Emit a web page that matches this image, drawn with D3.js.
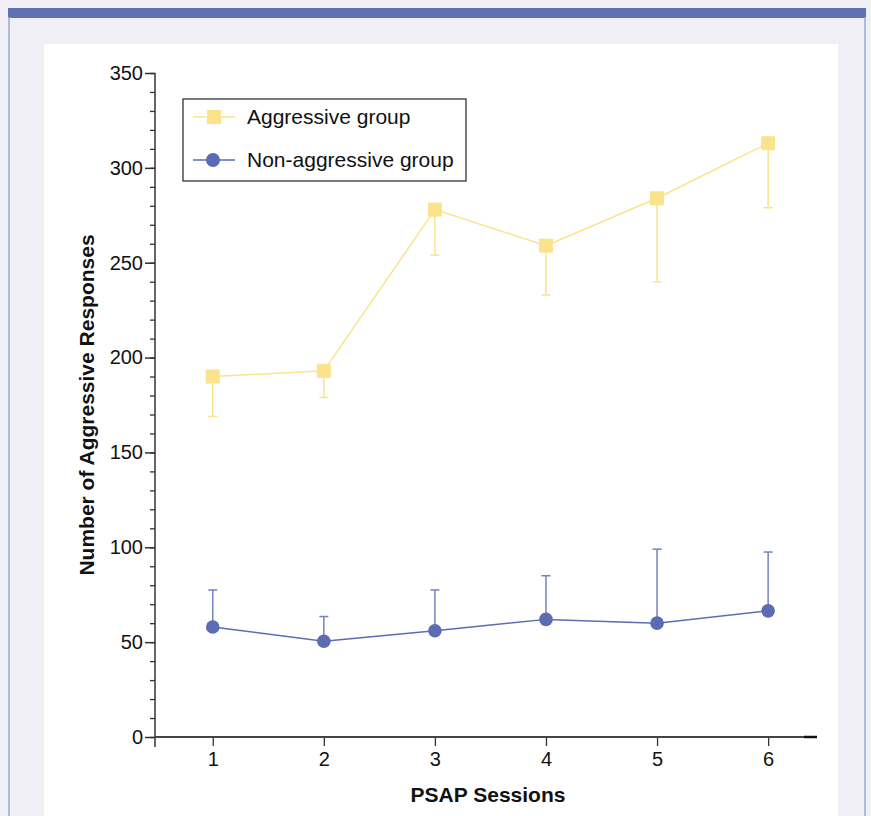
<!DOCTYPE html>
<html>
<head>
<meta charset="utf-8">
<script src="https://cdn.jsdelivr.net/npm/d3@7"></script>
<style>
  body { margin: 0; background: #efeff5; }
  svg { display: block; font-family: "Liberation Sans", Arial, sans-serif; }
</style>
</head>
<body>
<svg id="chart"></svg>
<script>
// chart data
const sessions = [1, 2, 3, 4, 5, 6];
const aggressiveMean = [190, 193, 278, 259, 284, 313];
const aggressiveSD = [21, 14, 24, 26, 44, 34];
const nonAggressiveMean = [58, 50.5, 56, 62, 60, 66.5];
const nonAggressiveSD = [19.5, 13, 21.5, 23, 39, 31];
const yMajorTicks = [0, 50, 100, 150, 200, 250, 300, 350];
const seriesNames = ['Aggressive group', 'Non-aggressive group'];

const width = 871;
const height = 816;
const yellow = '#fbe38c';
const blue = '#5c6cb3';
const font = '"Liberation Sans", Arial, sans-serif';

const svg = d3.select('#chart').attr('width', width).attr('height', height);

// page frame
svg.append('rect').attr('width', width).attr('height', height).attr('fill', '#efeff5');
svg.append('rect').attr('x', 8).attr('y', 8).attr('width', 858).attr('height', 10).attr('fill', '#5f70b5');
svg.append('line').attr('x1', 9).attr('x2', 9).attr('y1', 17).attr('y2', height).attr('stroke', '#9ca6d6').attr('stroke-width', 1.5);
svg.append('line').attr('x1', 865).attr('x2', 865).attr('y1', 17).attr('y2', height).attr('stroke', '#9ca6d6').attr('stroke-width', 1.5);
svg.append('rect').attr('x', 44).attr('y', 44).attr('width', 794).attr('height', height - 44).attr('fill', '#fff');

// scales
const x = d3.scaleLinear().domain([0.48, 6.44]).range([155, 817]);
const y = d3.scaleLinear().domain([0, 350]).range([737, 73]);

const axisColor = '#333';

// y axis minor ticks
svg.append('g')
    .attr('transform', 'translate(155,0)')
    .call(d3.axisLeft(y).tickValues(d3.range(0, 351, 10)).tickSize(5).tickFormat(''))
    .call(g => g.select('.domain').remove())
    .call(g => g.selectAll('line').attr('stroke', axisColor).attr('stroke-width', 1.3));

// y axis major ticks
svg.append('g')
    .attr('transform', 'translate(155,0)')
    .call(d3.axisLeft(y).tickValues(yMajorTicks).tickSize(10).tickPadding(2))
    .call(g => g.select('.domain').remove())
    .call(g => g.selectAll('line').attr('stroke', axisColor).attr('stroke-width', 1.5))
    .call(g => g.selectAll('text').attr('fill', '#111').style('font-size', '20px').style('font-family', font));

// x axis ticks
svg.append('g')
    .attr('transform', 'translate(0,737)')
    .call(d3.axisBottom(x).tickValues(sessions).tickSize(9).tickPadding(6).tickFormat(d3.format('d')))
    .call(g => g.select('.domain').remove())
    .call(g => g.selectAll('line').attr('stroke', axisColor).attr('stroke-width', 1.3))
    .call(g => g.selectAll('text').attr('fill', '#111').style('font-size', '20px').style('font-family', font));

// axis lines
svg.append('line').attr('x1', 155).attr('x2', 155).attr('y1', y(350)).attr('y2', 747)
    .attr('stroke', axisColor).attr('stroke-width', 1.5);
svg.append('line').attr('x1', 155).attr('x2', 817).attr('y1', 737).attr('y2', 737)
    .attr('stroke', '#444').attr('stroke-width', 1.8);
svg.append('line').attr('x1', 804).attr('x2', 817).attr('y1', 737).attr('y2', 737)
    .attr('stroke', '#111').attr('stroke-width', 2.5);

// axis titles
svg.append('text')
    .attr('x', 488).attr('y', 802)
    .attr('text-anchor', 'middle')
    .style('font-size', '21px').style('font-weight', 'bold').style('font-family', font).attr('fill', '#111')
    .text('PSAP Sessions');
svg.append('text')
    .attr('transform', 'translate(94,405) rotate(-90)')
    .attr('text-anchor', 'middle')
    .style('font-size', '21px').style('font-weight', 'bold').style('font-family', font).attr('fill', '#111')
    .text('Number of Aggressive Responses');

const line = d3.line().x((d, i) => x(sessions[i])).y(d => y(d));

// aggressive group: error bars below
const aggGroup = svg.append('g');
aggGroup.selectAll('.err')
    .data(aggressiveMean)
    .enter().append('line')
    .attr('x1', (d, i) => x(sessions[i])).attr('x2', (d, i) => x(sessions[i]))
    .attr('y1', d => y(d)).attr('y2', (d, i) => y(d - aggressiveSD[i]))
    .attr('stroke', yellow).attr('stroke-width', 1.5);
aggGroup.selectAll('.cap')
    .data(aggressiveMean)
    .enter().append('line')
    .attr('x1', (d, i) => x(sessions[i]) - 4.5).attr('x2', (d, i) => x(sessions[i]) + 4.5)
    .attr('y1', (d, i) => y(d - aggressiveSD[i])).attr('y2', (d, i) => y(d - aggressiveSD[i]))
    .attr('stroke', yellow).attr('stroke-width', 1.5);
aggGroup.append('path')
    .datum(aggressiveMean)
    .attr('d', line)
    .attr('fill', 'none').attr('stroke', yellow).attr('stroke-width', 1.5);
aggGroup.selectAll('rect')
    .data(aggressiveMean)
    .enter().append('rect')
    .attr('x', (d, i) => x(sessions[i]) - 7).attr('y', d => y(d) - 7)
    .attr('width', 14).attr('height', 14)
    .attr('fill', yellow);

// non-aggressive group: error bars above
const nonGroup = svg.append('g');
nonGroup.selectAll('.err')
    .data(nonAggressiveMean)
    .enter().append('line')
    .attr('x1', (d, i) => x(sessions[i])).attr('x2', (d, i) => x(sessions[i]))
    .attr('y1', d => y(d)).attr('y2', (d, i) => y(d + nonAggressiveSD[i]))
    .attr('stroke', '#7482c0').attr('stroke-width', 1.5);
nonGroup.selectAll('.cap')
    .data(nonAggressiveMean)
    .enter().append('line')
    .attr('x1', (d, i) => x(sessions[i]) - 4.5).attr('x2', (d, i) => x(sessions[i]) + 4.5)
    .attr('y1', (d, i) => y(d + nonAggressiveSD[i])).attr('y2', (d, i) => y(d + nonAggressiveSD[i]))
    .attr('stroke', '#7482c0').attr('stroke-width', 1.5);
nonGroup.append('path')
    .datum(nonAggressiveMean)
    .attr('d', line)
    .attr('fill', 'none').attr('stroke', blue).attr('stroke-width', 1.5);
nonGroup.selectAll('circle')
    .data(nonAggressiveMean)
    .enter().append('circle')
    .attr('cx', (d, i) => x(sessions[i])).attr('cy', d => y(d))
    .attr('r', 6.8)
    .attr('fill', blue);

// legend
const legend = svg.append('g').attr('transform', 'translate(183,99)');
legend.append('rect')
    .attr('width', 283).attr('height', 82)
    .attr('fill', '#fff').attr('stroke', '#222').attr('stroke-width', 1.2);
seriesNames.forEach((name, i) => {
    const ly = 18 + i * 43;
    const color = i === 0 ? yellow : blue;
    legend.append('line').attr('x1', 10).attr('x2', 52).attr('y1', ly).attr('y2', ly)
        .attr('stroke', color).attr('stroke-width', 1.5);
    if (i === 0) {
        legend.append('rect').attr('x', 24).attr('y', ly - 7).attr('width', 14).attr('height', 14).attr('fill', color);
    } else {
        legend.append('circle').attr('cx', 30).attr('cy', ly).attr('r', 7).attr('fill', color);
    }
    legend.append('text')
        .attr('x', 64).attr('y', ly + 7)
        .style('font-size', '21px').style('font-family', font).attr('fill', '#111')
        .text(name);
});
</script>
</body>
</html>
